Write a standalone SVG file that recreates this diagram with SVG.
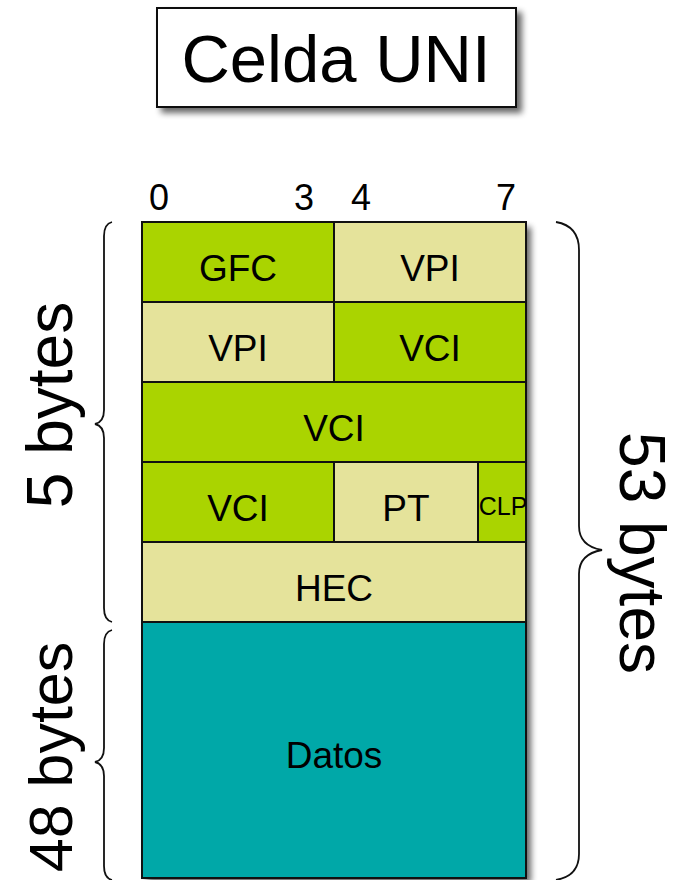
<svg xmlns="http://www.w3.org/2000/svg" width="681" height="880" viewBox="0 0 681 880">
<defs>
<filter id="sh" x="-10%" y="-10%" width="130%" height="130%">
<feGaussianBlur in="SourceAlpha" stdDeviation="3"/>
<feOffset dx="5" dy="5" result="b"/>
<feComponentTransfer><feFuncA type="linear" slope="0.6"/></feComponentTransfer>
<feMerge><feMergeNode/><feMergeNode in="SourceGraphic"/></feMerge>
</filter>
</defs>
<style>
.g{fill:#aad400;stroke:#111;stroke-width:2}
.b{fill:#e5e39b;stroke:#111;stroke-width:2}
.t{fill:#00a8a8;stroke:#111;stroke-width:2}
.lbl{font-family:"Liberation Sans",Arial,sans-serif;font-size:37px;fill:#000;text-anchor:middle}
.num{font-family:"Liberation Sans",Arial,sans-serif;font-size:36px;fill:#000;text-anchor:middle}
.big{font-family:"Liberation Sans",Arial,sans-serif;font-size:64px;fill:#000;text-anchor:middle}
.br{fill:none;stroke:#111;stroke-width:1.8}
</style>
<rect width="681" height="880" fill="#fff"/>
<g id="title">
<rect x="157" y="8" width="359" height="99" fill="#fff" stroke="#111" stroke-width="2" filter="url(#sh)"/>
<text x="336" y="82" class="lbl" style="font-size:67px">Celda UNI</text>
</g>
<g id="bits">
<text x="159" y="210" class="num">0</text>
<text x="304" y="210" class="num">3</text>
<text x="361" y="210" class="num">4</text>
<text x="506" y="210" class="num">7</text>
</g>
<g id="cell" filter="url(#sh)">
<rect x="142" y="222" width="384" height="656" fill="#fff"/>
</g>
<g id="gfc"><rect x="142" y="222" width="192" height="80" class="g"/><text x="238" y="281" class="lbl">GFC</text></g>
<g id="vpi1"><rect x="334" y="222" width="192" height="80" class="b"/><text x="430" y="281" class="lbl">VPI</text></g>
<g id="vpi2"><rect x="142" y="302" width="192" height="80" class="b"/><text x="238" y="361" class="lbl">VPI</text></g>
<g id="vci1"><rect x="334" y="302" width="192" height="80" class="g"/><text x="430" y="361" class="lbl">VCI</text></g>
<g id="vci2"><rect x="142" y="382" width="384" height="80" class="g"/><text x="334" y="441" class="lbl">VCI</text></g>
<g id="vci3"><rect x="142" y="462" width="192" height="80" class="g"/><text x="238" y="521" class="lbl">VCI</text></g>
<g id="pt"><rect x="334" y="462" width="144" height="80" class="b"/><text x="406" y="521" class="lbl">PT</text></g>
<g id="clp"><rect x="478" y="462" width="48" height="80" class="g"/><text x="503" y="515" class="lbl" style="font-size:25px">CLP</text></g>
<g id="hec"><rect x="142" y="542" width="384" height="80" class="b"/><text x="334" y="601" class="lbl">HEC</text></g>
<g id="datos"><rect x="142" y="622" width="384" height="256" class="t"/><text x="334" y="768" class="lbl">Datos</text></g>
<g id="braces">
<path class="br" d="M112,222 Q104,224 104,236 L104,410 Q104,422 95,424 Q104,426 104,438 L104,608 Q104,620 112,622"/>
<path class="br" d="M112,630 Q104,632 104,644 L104,748 Q104,760 95,762 Q104,764 104,776 L104,866 Q104,878 112,880"/>
<path class="br" d="M556,222 Q579,226 579,250 L579,526 Q579,546 602,550 Q579,554 579,574 L579,854 Q579,876 556,880"/>
</g>
<g id="labels">
<text class="big" transform="translate(72,405) rotate(-90)">5 bytes</text>
<text class="big" style="font-size:61px" transform="translate(72,757) rotate(-90)">48 bytes</text>
<text class="big" transform="translate(620,553) rotate(90)">53 bytes</text>
</g>
</svg>
